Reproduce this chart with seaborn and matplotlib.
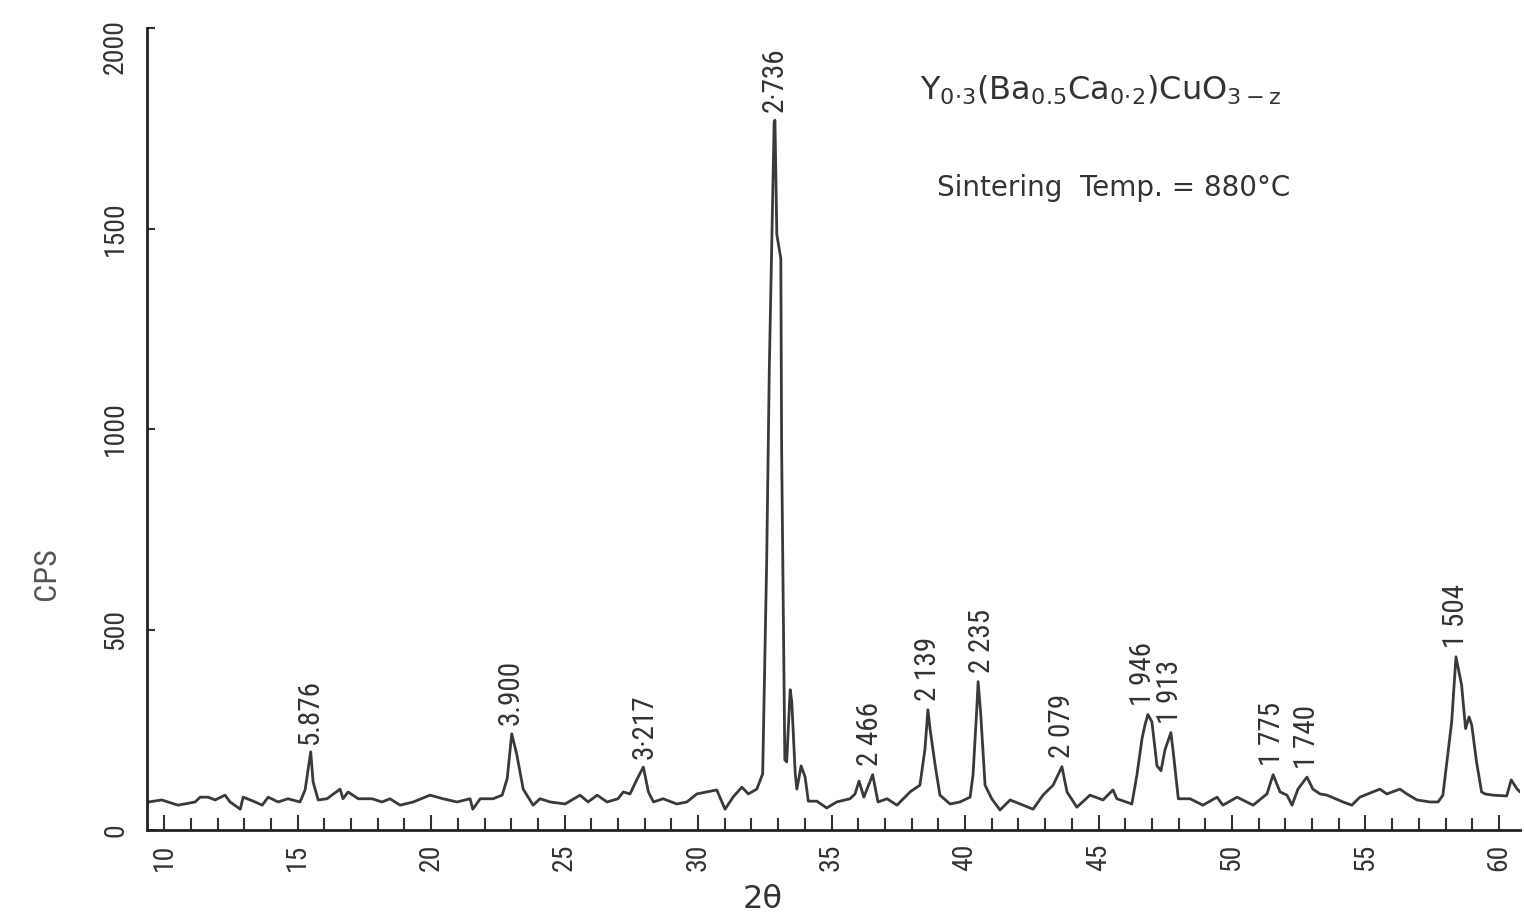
import pandas as pd
import matplotlib
matplotlib.use('Agg')
import matplotlib.pyplot as plt
import seaborn as sns
from matplotlib import font_manager
from matplotlib.ticker import MultipleLocator
from matplotlib.transforms import ScaledTranslation

# XRD trace (2-theta in degrees, intensity in CPS)
two_theta = [
    9.36, 9.41, 9.91, 10.52, 11.16, 11.35, 11.65, 11.91, 12.28, 12.47,
    12.85, 12.96, 13.41, 13.67, 13.90, 14.27, 14.64, 15.09, 15.28, 15.49,
    15.58, 15.77, 16.10, 16.59, 16.70, 16.89, 17.27, 17.79, 18.16, 18.46,
    18.84, 19.33, 19.96, 20.45, 20.97, 21.46, 21.56, 21.84, 22.32, 22.66,
    22.85, 23.02, 23.21, 23.45, 23.82, 24.08, 24.46, 25.02, 25.58, 25.88,
    26.22, 26.59, 27.00, 27.20, 27.45, 27.70, 27.95, 28.14, 28.33, 28.69,
    29.20, 29.58, 29.95, 30.33, 30.70, 31.01, 31.31, 31.64, 31.88, 32.20,
    32.42, 32.57, 32.67, 32.76, 32.85, 32.88, 32.95, 33.10, 33.13, 33.19,
    33.25, 33.32, 33.45, 33.51, 33.64, 33.70, 33.86, 34.01, 34.13, 34.45,
    34.82, 35.19, 35.69, 35.88, 36.03, 36.21, 36.54, 36.74, 37.08, 37.45,
    37.94, 38.31, 38.50, 38.61, 38.69, 38.88, 39.06, 39.44, 39.81, 40.19,
    40.30, 40.44, 40.49, 40.59, 40.75, 41.00, 41.31, 41.69, 42.17, 42.55,
    42.92, 43.30, 43.63, 43.82, 44.19, 44.68, 45.17, 45.54, 45.69, 46.25,
    46.44, 46.63, 46.74, 46.85, 47.00, 47.19, 47.34, 47.49, 47.71, 47.79,
    47.99, 48.43, 48.91, 49.44, 49.66, 50.19, 50.79, 51.31, 51.54, 51.80,
    52.06, 52.25, 52.47, 52.81, 53.03, 53.30, 53.56, 54.16, 54.49, 54.79,
    55.09, 55.54, 55.80, 56.29, 56.55, 56.93, 57.42, 57.72, 57.90, 58.23,
    58.39, 58.60, 58.75, 58.88, 58.98, 59.16, 59.35, 59.48, 59.78, 60.29,
    60.46, 60.67, 60.79,
]
cps = [
    62, 70, 75, 62, 70, 82, 82, 75, 87, 70,
    52, 82, 70, 62, 82, 70, 78, 70, 100, 195,
    120, 75, 78, 102, 78, 95, 78, 78, 70, 78,
    62, 70, 87, 78, 70, 78, 52, 78, 78, 87,
    128, 240, 188, 102, 62, 78, 70, 65, 87, 70,
    87, 70, 78, 95, 90, 125, 157, 95, 70, 78,
    65, 70, 90, 95, 100, 52, 82, 107, 90, 102,
    140, 672, 1157, 1460, 1765, 1770, 1485, 1425, 952, 552,
    175, 170, 350, 320, 140, 102, 160, 132, 72, 72,
    55, 70, 78, 90, 122, 82, 138, 70, 78, 62,
    95, 112, 202, 300, 252, 162, 87, 65, 70, 82,
    138, 302, 370, 288, 112, 78, 50, 75, 62, 52,
    87, 112, 158, 95, 57, 87, 75, 100, 78, 65,
    138, 228, 262, 288, 270, 160, 148, 200, 243, 200,
    78, 78, 62, 82, 62, 82, 62, 90, 138, 95,
    87, 62, 102, 132, 102, 90, 87, 70, 62, 82,
    90, 102, 90, 102, 90, 75, 70, 70, 87, 270,
    432, 362, 253, 282, 262, 170, 95, 90, 87, 85,
    125, 103, 95,
]

# d-spacing labels written above the peaks
peak_labels = ['5.876', '3.900', '3·217', '2·736', '2 466', '2 139', '2 235',
               '2 079', '1 946', '1 913', '1 775', '1 740', '1 504']
peak_pos = [15.47, 22.96, 28.01, 32.88, 36.44, 38.61, 40.64,
            43.63, 46.67, 47.68, 51.50, 52.81, 58.39]
peak_cps = [195, 240, 157, 1770, 138, 300, 370,
            158, 288, 243, 138, 132, 432]

x_ticks = [10, 15, 20, 25, 30, 35, 40, 45, 50, 55, 60]
y_ticks = [0, 500, 1000, 1500, 2000]

sns.set_theme(style='ticks')

# pick a narrow face for the numbers if one is installed
fonts = font_manager.fontManager.ttflist
names = {f.name for f in fonts}
stretch = 'normal'
narrow = 'DejaVu Sans'
for cand in ['Liberation Sans Narrow', 'Roboto Condensed', 'Open Sans Condensed']:
    if cand in names:
        narrow = cand
        break
else:
    for cand in ['DejaVu Sans', 'Roboto', 'Open Sans', 'Noto Sans']:
        if any(f.name == cand and f.stretch in ('condensed', 'semi-condensed')
               for f in fonts):
            narrow = cand
            stretch = 'condensed'
            break
plt.rcParams['font.family'] = [narrow, 'DejaVu Sans']
plt.rcParams['font.stretch'] = stretch
plt.rcParams['mathtext.default'] = 'regular'

is_narrow = stretch == 'condensed' or narrow != 'DejaVu Sans'
num_size = 20 if is_narrow else 16
peak_size = 21 if is_narrow else 17

df = pd.DataFrame({'two_theta': two_theta, 'cps': cps})

fig = plt.figure(figsize=(15.24, 9.19), dpi=100)
ax = fig.add_axes([0.0965, 0.0968, 0.9009, 0.8727])

line_col = '#3a3a3a'
sns.lineplot(data=df, x='two_theta', y='cps', ax=ax, color=line_col,
             linewidth=2.0, sort=False, estimator=None)

ax.set_xlim(9.36, 60.79)
ax.set_ylim(0, 2000)
sns.despine(ax=ax)
for side in ['left', 'bottom']:
    ax.spines[side].set_linewidth(2.0)
    ax.spines[side].set_color('#222222')

ax.set_xticks(x_ticks)
ax.set_xticklabels([str(t) for t in x_ticks], rotation=90)
ax.xaxis.set_minor_locator(MultipleLocator(1))
ax.set_yticks(y_ticks)
ax.set_yticklabels([str(t) for t in y_ticks], rotation=90, va='center')

ax.tick_params(axis='x', which='major', direction='in', length=11, width=1.5,
               pad=10, labelsize=num_size, colors='#333333')
ax.tick_params(axis='x', which='minor', direction='in', length=9, width=1.5,
               colors='#333333')
ax.tick_params(axis='y', which='major', direction='in', length=6, width=1.5,
               pad=13, labelsize=num_size, colors='#333333')

# the top label sits a little below its tick in the original
top_lab = ax.get_yticklabels()[-1]
top_lab.set_transform(top_lab.get_transform()
                      + ScaledTranslation(0, -13 / 72, fig.dpi_scale_trans))

ax.set_xlabel('2θ', fontsize=23, color='#333333', fontstretch='normal',
              family='DejaVu Sans')
ax.xaxis.set_label_coords(0.448, -0.087)
ax.xaxis.label.set_va('center')
ax.set_ylabel('CPS', fontsize=23, color='#555555')
ax.yaxis.set_label_coords(-0.0735, 0.32)
ax.yaxis.label.set_va('center')

for lab, xp, yp in zip(peak_labels, peak_pos, peak_cps):
    ax.annotate(lab, xy=(xp, yp), xytext=(0, 6), textcoords='offset points',
                rotation=90, ha='center', va='bottom', fontsize=peak_size,
                color='#333333')

ax.text(0.563, 0.922, r'Y$_{0{\cdot}3}$(Ba$_{0.5}$Ca$_{0{\cdot}2}$)CuO$_{3-z}$',
        transform=ax.transAxes, fontsize=23, color='#333333',
        family='DejaVu Sans', fontstretch='normal', ha='left', va='center')
ax.text(0.5754, 0.8005, 'Sintering  Temp. = 880°C', transform=ax.transAxes,
        fontsize=20, color='#333333', family='DejaVu Sans',
        fontstretch='normal', ha='left', va='center')

fig.savefig('out.png', dpi=100, facecolor='white')
